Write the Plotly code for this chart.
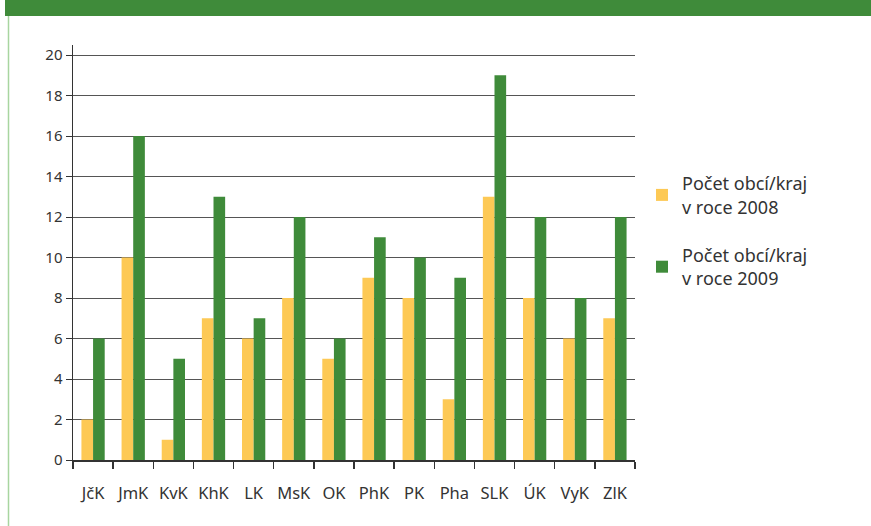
import plotly.graph_objects as go

categories = ["JčK", "JmK", "KvK", "KhK", "LK", "MsK", "OK", "PhK", "PK", "Pha", "SLK", "ÚK", "VyK", "ZlK"]
values_2008 = [2, 10, 1, 7, 6, 8, 5, 9, 8, 3, 13, 8, 6, 7]
values_2009 = [6, 16, 5, 13, 7, 12, 6, 11, 10, 9, 19, 12, 8, 12]
name_2008 = "Počet obcí/kraj<br>v roce 2008"
name_2009 = "Počet obcí/kraj<br>v roce 2009"
y_ticks = [0, 2, 4, 6, 8, 10, 12, 14, 16, 18, 20]

YELLOW = "#FDC955"
GREEN = "#3F8B3A"
FONT = "Noto Sans"

W, H = 871, 526
L, R, T, B = 73, 236, 45, 66
pw = W - L - R
ph = H - T - B

def px(x):
    return (x - L) / pw

def py(y):
    return (H - B - y) / ph

fig = go.Figure()
fig.add_trace(go.Bar(x=categories, y=values_2008, name=name_2008, legendgroup="g2008",
                     marker=dict(color=YELLOW, line=dict(width=0))))
fig.add_trace(go.Bar(x=categories, y=values_2009, name=name_2009, legendgroup="g2009",
                     marker=dict(color=GREEN, line=dict(width=0))))

fig.update_layout(
    width=W, height=H,
    margin=dict(l=L, r=R, t=T, b=B),
    paper_bgcolor="white", plot_bgcolor="white",
    barmode="group", bargap=0.42, bargroupgap=0,
    font=dict(family=FONT, color="#333333"),
    showlegend=True,
    legend=dict(x=px(642), y=py(165), xanchor="left", yanchor="top",
                font=dict(family=FONT, size=18, color="#333333"),
                itemsizing="constant", tracegroupgap=22, itemwidth=30,
                bgcolor="rgba(0,0,0,0)"),
    xaxis=dict(showgrid=False, showline=True, linecolor="#333333", linewidth=1.5,
               ticks="outside", ticklen=7, tickcolor="#333333", tickwidth=1.5,
               tickson="boundaries", ticklabelstandoff=18, tickangle=0,
               tickfont=dict(family=FONT, size=16.5, color="#333333"),
               range=[-0.5, 13.5], fixedrange=True),
    yaxis=dict(range=[0, 20.5], tickvals=y_ticks, showgrid=True,
               gridcolor="#555555", gridwidth=1,
               showline=True, linecolor="#333333", linewidth=1.5,
               ticks="outside", ticklen=6, tickcolor="#333333",
               tickfont=dict(family=FONT, size=15, color="#333333"),
               zeroline=False, fixedrange=True),
    shapes=[
        dict(type="rect", xref="paper", yref="paper",
             x0=px(5), x1=px(W + 5), y0=py(16), y1=py(-5),
             fillcolor=GREEN, line=dict(width=0), layer="above"),
        dict(type="line", xref="paper", yref="paper",
             x0=px(8.5), x1=px(8.5), y0=py(16), y1=py(H + 5),
             line=dict(color="#A8D5A0", width=1.5)),
    ],
)

fig.write_html("out.html", config={"displayModeBar": False, "staticPlot": True})

with open("out.html", encoding="utf-8") as f:
    html = f.read()
html = html.replace("<body>", '<body style="margin:0;padding:0;overflow:hidden">', 1)
with open("out.html", "w", encoding="utf-8") as f:
    f.write(html)
